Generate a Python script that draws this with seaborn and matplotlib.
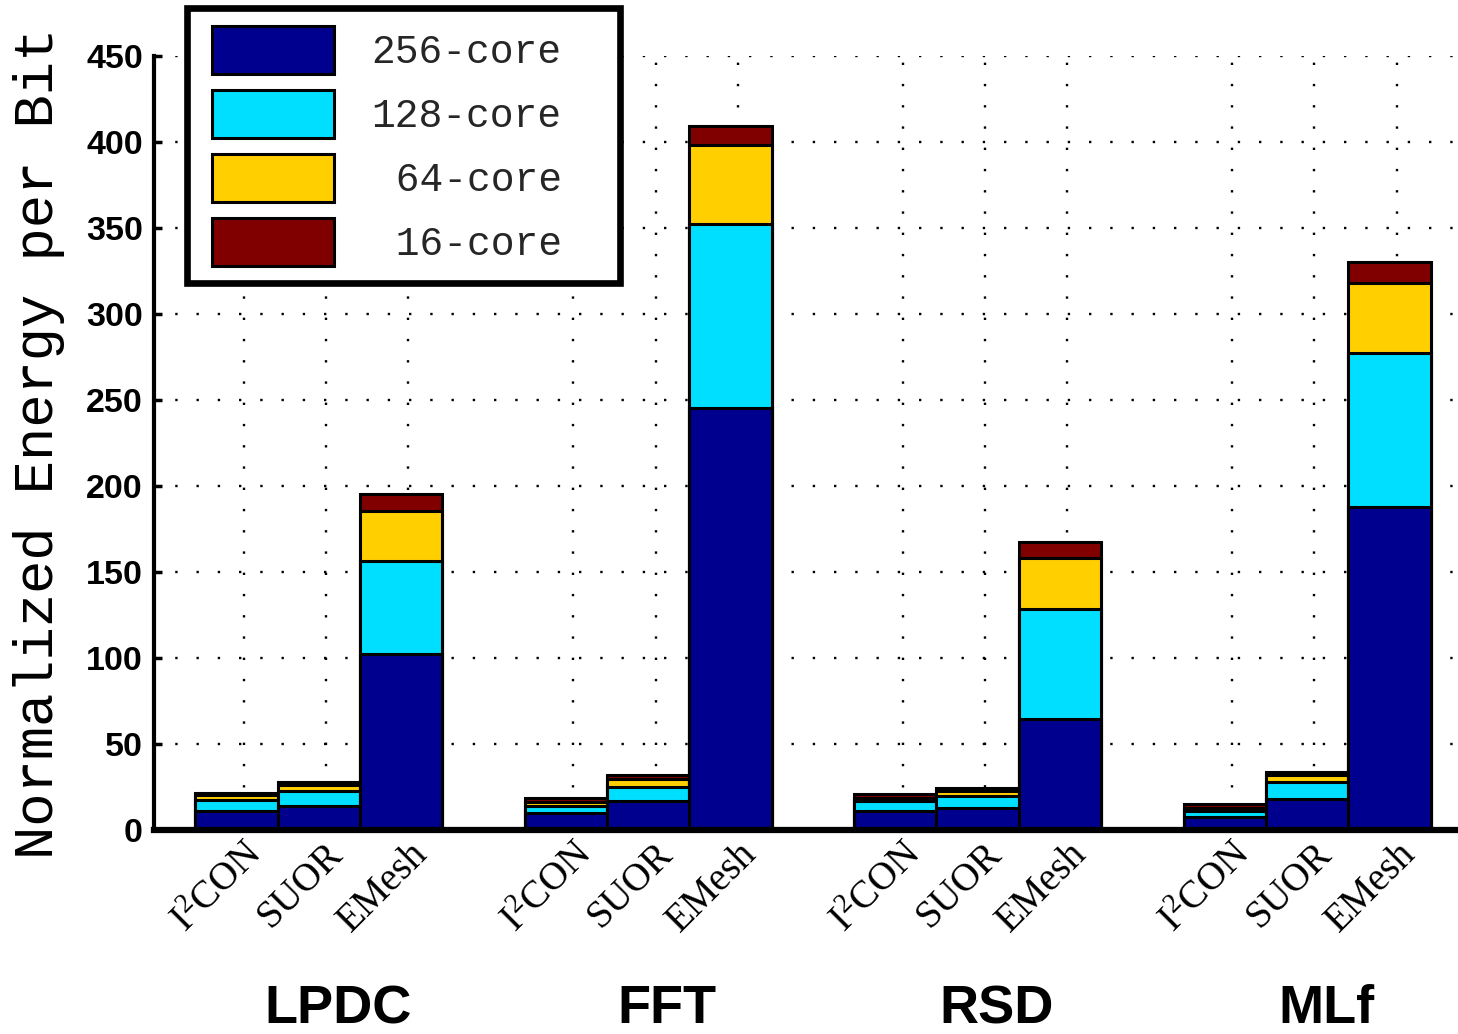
import numpy as np
import pandas as pd
import matplotlib
matplotlib.use("Agg")
import matplotlib.pyplot as plt
import seaborn as sns
from matplotlib.patches import Patch, Rectangle
from matplotlib.legend_handler import HandlerPatch
from matplotlib.transforms import blended_transform_factory

# ---------------- data ----------------
benchmarks = ["LPDC", "FFT", "RSD", "MLf"]
architectures = ["I$^2$CON", "SUOR", "EMesh"]
series_names = ["256-core", "128-core", "64-core", "16-core"]

# order: LPDC(I2CON, SUOR, EMesh), FFT(...), RSD(...), MLf(...)
core256 = [10.8, 14.1, 102.3, 9.7, 17.0, 245.3, 11.2, 13.0, 64.5, 7.4, 18.0, 187.8]
core128 = [6.6, 8.4, 54.1, 4.4, 8.2, 107.0, 5.6, 6.8, 64.0, 3.8, 9.7, 89.5]
core64 = [3.0, 3.7, 29.1, 2.4, 4.3, 46.0, 2.0, 3.0, 29.6, 1.8, 4.3, 40.7]
core16 = [1.4, 1.5, 9.9, 1.9, 2.5, 11.0, 1.9, 1.4, 9.3, 1.9, 1.5, 12.2]

yticks = [0, 50, 100, 150, 200, 250, 300, 350, 400, 450]

colors = {"256-core": "#00008F", "128-core": "#00DFFF",
          "64-core": "#FFCF00", "16-core": "#800000"}

# ---------------- layout ----------------
sns.set_theme(style="white")
plt.rcParams["font.family"] = ["Liberation Sans", "DejaVu Sans"]
plt.rcParams["mathtext.default"] = "regular"

W, H = 1458, 1034
PX = 72 / 100  # points per pixel
fig = plt.figure(figsize=(W / 100, H / 100), dpi=100)
ax = fig.add_axes([154 / W, 1 - 830 / H, (W - 154) / W, (830 - 56) / H])

positions = []
for g in range(len(benchmarks)):
    for a in range(len(architectures)):
        positions.append(g * 4 + a + 1)
positions = np.array(positions, dtype=float)

df = pd.DataFrame({"pos": positions, "c256": core256, "c128": core128,
                   "c64": core64, "c16": core16})
df["t256"] = df["c256"]
df["t128"] = df["t256"] + df["c128"]
df["t64"] = df["t128"] + df["c64"]
df["t16"] = df["t64"] + df["c16"]

for col, name in [("t16", "16-core"), ("t64", "64-core"),
                  ("t128", "128-core"), ("t256", "256-core")]:
    sns.barplot(data=df, x="pos", y=col, native_scale=True, orient="x",
                width=1.0, color=colors[name], saturation=1,
                edgecolor="black", linewidth=2.2, errorbar=None, ax=ax)

ax.set_xlim(0, (W - 154) / 82.36)
ax.set_ylim(0, 450)
ax.set_xlabel("")

# spines
for s in ["top", "right"]:
    ax.spines[s].set_visible(False)
ax.spines["left"].set_linewidth(3)
ax.spines["left"].set_color("black")
ax.spines["bottom"].set_linewidth(4.5)
ax.spines["bottom"].set_color("black")

# y axis
ax.set_yticks(yticks)
ax.set_yticklabels([str(v) for v in yticks], fontsize=24.5, fontweight="bold",
                   family=["Liberation Sans", "DejaVu Sans"])
ax.tick_params(axis="y", direction="in", length=6, width=2.5, pad=8,
               colors="black", left=True)

# x axis: grid at minor ticks, labels at major ticks
ax.set_xticks(positions + 0.09, minor=True)
ax.set_xticks(positions - 0.22)
ax.set_xticklabels([architectures[i % 3] for i in range(len(positions))],
                   rotation=45, ha="center", va="top", fontsize=28,
                   family=["Liberation Serif", "DejaVu Serif"])
ax.tick_params(axis="x", which="both", length=0, pad=4, colors="black")

ax.set_axisbelow(True)
ax.grid(False)
ax.grid(True, axis="y", which="major", color="black", linestyle=(0, (1, 8)),
        linewidth=1.7)
ax.grid(True, axis="x", which="minor", color="black", linestyle=(0, (1, 8)),
        linewidth=1.7)

# y label
ax.set_ylabel("Normalized Energy per Bit", fontsize=40,
              family=["Liberation Mono", "DejaVu Sans Mono"], va="center",
              color="black")
ax.yaxis.set_label_coords((39 - 154) / (W - 154), 0.5)

# group labels
trans = blended_transform_factory(ax.transData, fig.transFigure)
for g, name in enumerate(benchmarks):
    ax.text(g * 4 + 2 + 0.23, 1 - 1023 / H, name, transform=trans,
            ha="center", va="baseline", fontsize=39, fontweight="bold",
            family=["Liberation Sans", "DejaVu Sans"], color="black")

# legend
LEG_FS = 28.5
fs_px = LEG_FS / PX
OFFSET_PT = 7 * PX            # extra left inset of the swatch
SWATCH_W_PT = 122 * PX
SWATCH_H_PX = 48
hh = (SWATCH_H_PX / fs_px - 0.245) / 0.65


def swatch(legend, orig_handle, xdescent, ydescent, width, height, fontsize):
    return Rectangle((-xdescent + OFFSET_PT, -ydescent), SWATCH_W_PT, height)


handles = [Patch(facecolor=colors[n], edgecolor="black", linewidth=2.2)
           for n in series_names]
labels = ["256-core", "128-core", " 64-core", " 16-core"]
leg = ax.legend(handles, labels, loc="upper left", mode="expand",
                bbox_to_anchor=(187 / W, 1 - 283 / H, 433 / W, 275 / H),
                bbox_transform=fig.transFigure, borderaxespad=0,
                prop={"family": "Liberation Mono", "size": LEG_FS},
                handlelength=(122 + 7) / fs_px,
                handleheight=hh, labelspacing=16 / fs_px,
                handletextpad=38 / fs_px, borderpad=17.5 / fs_px,
                fancybox=False, framealpha=1, edgecolor="black",
                handler_map={Patch: HandlerPatch(patch_func=swatch)})
leg.get_frame().set_linewidth(4.8)

fig.savefig("out.png", dpi=100)
